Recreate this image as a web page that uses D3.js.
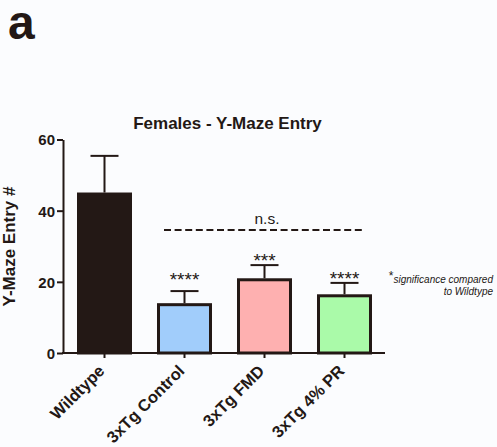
<!DOCTYPE html>
<html>
<head>
<meta charset="utf-8">
<script src="https://cdn.jsdelivr.net/npm/d3@7"></script>
<style>
  html, body { margin: 0; padding: 0; background: #fbfcfe; }
  svg { display: block; font-family: "Liberation Sans", Arial, Helvetica, sans-serif; }
</style>
</head>
<body>
<svg></svg>
<script>
// data
const groups = ['Wildtype', '3xTg Control', '3xTg FMD', '3xTg 4% PR'];
const means = [45.1, 14.0, 21.0, 16.5];
const sems = [10.3, 3.4, 3.7, 3.2];
const stars = ['', '****', '***', '****'];
const starLevel = [null, 18.8, 24.3, 19.0];
const fills = ['#231815', '#a1cdfb', '#feb0b0', '#aafaa9'];
const yTicks = [0, 20, 40, 60];
const nsLevel = 34.6;

const width = 497;
const height = 447;
const ink = '#231815';

let svg = d3.select('svg')
    .attr('width', width)
    .attr('height', height);

let xScale = d3.scaleBand()
    .domain(groups)
    .range([64.5, 384.5])
    .paddingInner(0.3125)
    .paddingOuter(0.15625);

let yScale = d3.scaleLinear()
    .domain([0, 60])
    .range([353, 139.5]);

// panel letter
svg.append('text')
    .attr('x', 8)
    .attr('y', 39)
    .attr('font-size', 48)
    .attr('font-weight', 'bold')
    .attr('fill', ink)
    .text('a');

// title
svg.append('text')
    .attr('x', 227.5)
    .attr('y', 129)
    .attr('text-anchor', 'middle')
    .attr('font-size', 17)
    .attr('font-weight', 'bold')
    .attr('fill', ink)
    .text('Females - Y-Maze Entry');

// bars
svg.selectAll('rect.bar')
    .data(groups)
    .enter()
    .append('rect')
    .attr('class', 'bar')
    .attr('x', d => xScale(d) + 1.5)
    .attr('width', xScale.bandwidth() - 3)
    .attr('y', (d, i) => yScale(means[i]) + 1.5)
    .attr('height', (d, i) => yScale(0) - yScale(means[i]) - 1.5)
    .attr('fill', (d, i) => fills[i])
    .attr('stroke', ink)
    .attr('stroke-width', 3);

// error bars (upper only)
let cx = d => xScale(d) + xScale.bandwidth() / 2;
svg.selectAll('line.err')
    .data(groups)
    .enter()
    .append('line')
    .attr('x1', cx)
    .attr('x2', cx)
    .attr('y1', (d, i) => yScale(means[i]))
    .attr('y2', (d, i) => yScale(means[i] + sems[i]))
    .attr('stroke', ink)
    .attr('stroke-width', 2);

svg.selectAll('line.cap')
    .data(groups)
    .enter()
    .append('line')
    .attr('x1', d => cx(d) - 14)
    .attr('x2', d => cx(d) + 14)
    .attr('y1', (d, i) => yScale(means[i] + sems[i]))
    .attr('y2', (d, i) => yScale(means[i] + sems[i]))
    .attr('stroke', ink)
    .attr('stroke-width', 2);

// significance stars
svg.selectAll('text.star')
    .data(groups.filter((d, i) => stars[i]))
    .enter()
    .append('text')
    .attr('x', cx)
    .attr('y', d => yScale(starLevel[groups.indexOf(d)]))
    .attr('text-anchor', 'middle')
    .attr('font-size', 19)
    .attr('fill', ink)
    .text(d => stars[groups.indexOf(d)]);

// n.s. dashed line
svg.append('line')
    .attr('x1', xScale(groups[1]) + 7)
    .attr('x2', xScale(groups[3]) + xScale.bandwidth() - 7)
    .attr('y1', yScale(nsLevel))
    .attr('y2', yScale(nsLevel))
    .attr('stroke', ink)
    .attr('stroke-width', 2)
    .attr('stroke-dasharray', '7,3.6');

svg.append('text')
    .attr('x', 267)
    .attr('y', yScale(nsLevel) - 6)
    .attr('text-anchor', 'middle')
    .attr('font-size', 15.5)
    .attr('fill', ink)
    .text('n.s.');

// axes
let xAxis = d3.axisBottom(xScale).tickSize(5).tickSizeOuter(0).tickFormat('');
let xg = svg.append('g')
    .attr('transform', 'translate(0,' + yScale(0) + ')')
    .call(xAxis);
xg.select('.domain').attr('stroke', ink).attr('stroke-width', 2)
    .attr('d', 'M62,0H385');
xg.selectAll('.tick line').attr('stroke', ink).attr('stroke-width', 2);

let yAxis = d3.axisLeft(yScale).tickValues(yTicks).tickSize(6).tickSizeOuter(0);
let yg = svg.append('g')
    .attr('transform', 'translate(63,0)')
    .call(yAxis);
yg.select('.domain').attr('stroke', ink).attr('stroke-width', 2);
yg.selectAll('.tick line').attr('stroke', ink).attr('stroke-width', 2);
yg.selectAll('.tick text')
    .attr('x', -8)
    .attr('dy', '0.36em')
    .attr('font-family', 'Liberation Sans, Arial, sans-serif')
    .attr('font-size', 15)
    .attr('font-weight', 'bold')
    .attr('fill', ink);

// category labels
svg.selectAll('text.cat')
    .data(groups)
    .enter()
    .append('text')
    .attr('transform', d => 'translate(' + (cx(d) + 1) + ',' + (yScale(0) + 19) + ') rotate(-45)')
    .attr('text-anchor', 'end')
    .attr('font-size', 16.5)
    .attr('font-weight', 'bold')
    .attr('fill', ink)
    .text(d => d);

// y label
svg.append('text')
    .attr('transform', 'translate(15,246.5) rotate(-90)')
    .attr('text-anchor', 'middle')
    .attr('font-size', 17)
    .attr('font-weight', 'bold')
    .attr('fill', ink)
    .text('Y-Maze Entry #');

// footnote
let note = svg.append('text')
    .attr('x', 493)
    .attr('y', 283)
    .attr('text-anchor', 'end')
    .attr('font-size', 10)
    .attr('font-style', 'italic')
    .attr('fill', ink);
note.append('tspan')
    .attr('font-style', 'normal')
    .attr('font-size', 12)
    .attr('dy', -3)
    .text('*');
note.append('tspan')
    .attr('dy', 3)
    .text('significance compared');

svg.append('text')
    .attr('x', 493)
    .attr('y', 295)
    .attr('text-anchor', 'end')
    .attr('font-size', 10)
    .attr('font-style', 'italic')
    .attr('fill', ink)
    .text('to Wildtype');
</script>
</body>
</html>
